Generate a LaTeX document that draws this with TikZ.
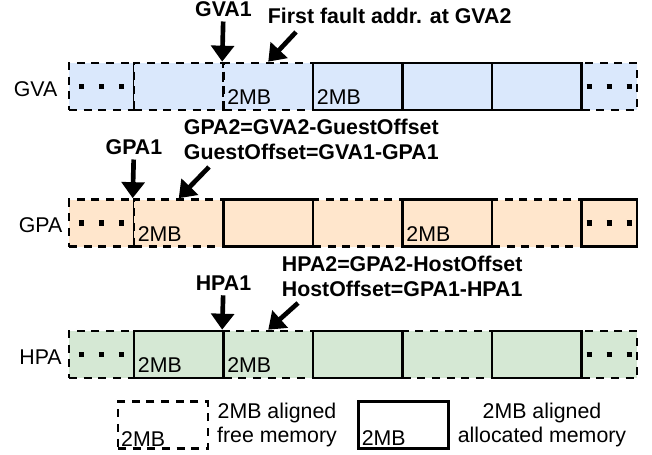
\documentclass[tikz,border=0pt]{standalone}
\usepackage{fontspec}
\setmainfont{Liberation Sans}
\usetikzlibrary{arrows.meta}

\definecolor{gvafill}{HTML}{DAE8FC}
\definecolor{gpafill}{HTML}{FFE6CC}
\definecolor{hpafill}{HTML}{D5E8D4}

\tikzset{every picture/.style={line width=0.75pt}}
\tikzset{
	freecell/.style={draw, line width=2pt, dash pattern=on 6pt off 5pt, minimum height=35.25pt, inner sep=0pt},
	usedcell/.style={draw, line width=1.8pt, minimum height=35.25pt, inner sep=0pt},
	endcell/.style={minimum width=48.75pt},
	midcell/.style={minimum width=67.125pt},
	lastcell/.style={minimum width=41.625pt},
	keycell/.style={minimum width=67.5pt},
	celldots/.style={line width=3.8pt, dash pattern=on 3.8pt off 11.2pt},
	plaintxt/.style={font=\fontsize{16}{18}\selectfont},
	boldtxt/.style={font=\fontsize{16}{18}\selectfont\bfseries},
	sizelbl/.style={plaintxt, anchor=south west, inner xsep=3.5pt, inner ysep=4.5pt},
	keylbl/.style={plaintxt, anchor=south west, inner xsep=3pt, inner ysep=2.5pt},
	blockarrow/.style={-{Triangle[length=12pt,width=17pt]}, line width=3.5pt}
}

\begin{document}
\begin{tikzpicture}[x=0.75pt,y=0.75pt,yscale=-1,xscale=1]
	\useasboundingbox (0,0) rectangle (652,454);

	%GVA row: free cells
	\node[freecell, endcell, fill=gvafill] (gvac0) at (101.5,86.5) {};
	\node[freecell, midcell, fill=gvafill] (gvac1) at (178.75,86.5) {};
	\node[freecell, midcell, fill=gvafill] (gvac2) at (268.25,86.5) {};
	\node[freecell, lastcell, fill=gvafill] (gvac6) at (609.25,86.5) {};
	%GVA row: allocated cells
	\node[usedcell, midcell, fill=gvafill] (gvac3) at (357.75,86.5) {};
	\node[usedcell, midcell, fill=gvafill] (gvac4) at (447.25,86.5) {};
	\node[usedcell, midcell, fill=gvafill] (gvac5) at (536.75,86.5) {};

	%GPA row: free cells
	\node[freecell, endcell, fill=gpafill] (gpac0) at (101.5,223) {};
	\node[freecell, midcell, fill=gpafill] (gpac1) at (178.75,223) {};
	\node[freecell, midcell, fill=gpafill] (gpac3) at (357.75,223) {};
	\node[freecell, midcell, fill=gpafill] (gpac5) at (536.75,223) {};
	%GPA row: allocated cells
	\node[usedcell, midcell, fill=gpafill] (gpac2) at (268.25,223) {};
	\node[usedcell, midcell, fill=gpafill] (gpac4) at (447.25,223) {};
	\node[usedcell, lastcell, fill=gpafill] (gpac6) at (609.25,223) {};

	%HPA row: free cells
	\node[freecell, endcell, fill=hpafill] (hpac0) at (101.5,354.5) {};
	\node[freecell, midcell, fill=hpafill] (hpac2) at (268.25,354.5) {};
	\node[freecell, midcell, fill=hpafill] (hpac4) at (447.25,354.5) {};
	\node[freecell, lastcell, fill=hpafill] (hpac6) at (609.25,354.5) {};
	%HPA row: allocated cells
	\node[usedcell, midcell, fill=hpafill] (hpac1) at (178.75,354.5) {};
	\node[usedcell, midcell, fill=hpafill] (hpac3) at (357.75,354.5) {};
	\node[usedcell, midcell, fill=hpafill] (hpac5) at (536.75,354.5) {};

	%Dots
	\draw[celldots] ([xshift=-16.9pt]gvac0.center) -- ([xshift=16.9pt]gvac0.center);
	\draw[celldots] ([xshift=-16.9pt]gvac6.center) -- ([xshift=16.9pt]gvac6.center);
	\draw[celldots] ([xshift=-16.9pt]gpac0.center) -- ([xshift=16.9pt]gpac0.center);
	\draw[celldots] ([xshift=-16.9pt]gpac6.center) -- ([xshift=16.9pt]gpac6.center);
	\draw[celldots] ([xshift=-16.9pt]hpac0.center) -- ([xshift=16.9pt]hpac0.center);
	\draw[celldots] ([xshift=-16.9pt]hpac6.center) -- ([xshift=16.9pt]hpac6.center);

	%Cell sizes
	\node[sizelbl] (gvam2) at (gvac2.south west) {2MB};
	\node[sizelbl] (gvam3) at (gvac3.south west) {2MB};
	\node[sizelbl] (gpam1) at (gpac1.south west) {2MB};
	\node[sizelbl] (gpam4) at (gpac4.south west) {2MB};
	\node[sizelbl] (hpam1) at (hpac1.south west) {2MB};
	\node[sizelbl] (hpam2) at (hpac2.south west) {2MB};

	% Text Node
	\node[plaintxt] (gvalbl) at (35.5,89) {GVA};
	% Text Node
	\node[plaintxt] (gpalbl) at (40.5,225) {GPA};
	% Text Node
	\node[plaintxt] (hpalbl) at (40.5,357) {HPA};

	% Text Node
	\node[boldtxt] (gva1) at (223.5,9) {GVA1};
	% Text Node
	\node[boldtxt, anchor=west] (fault) at (263,16) {First fault addr. at GVA2};
	% Text Node
	\node[boldtxt, anchor=west] (gpa2eq) at (179,127) {GPA2=GVA2-GuestOffset};
	% Text Node
	\node[boldtxt, anchor=west] (gofseq) at (179,152) {GuestOffset=GVA1-GPA1};
	% Text Node
	\node[boldtxt] (gpa1) at (134,147) {GPA1};
	% Text Node
	\node[boldtxt, anchor=west] (hpa2eq) at (277,264) {HPA2=GPA2-HostOffset};
	% Text Node
	\node[boldtxt, anchor=west] (hofseq) at (277,289) {HostOffset=GPA1-HPA1};
	% Text Node
	\node[boldtxt] (hpa1) at (223.5,283) {HPA1};

	%Arrows
	\coordinate (faulttail) at (296,32);
	\coordinate (gpatail) at (209,167);
	\coordinate (hpatail) at (298,303);
	\draw[blockarrow] (gva1) -- (gvac2.north west);
	\draw[blockarrow] (faulttail) -- (gvac2.north);
	\draw[blockarrow] (gpa1) -- (gpac1.north west);
	\draw[blockarrow] (gpatail) -- (gpac1.north);
	\draw[blockarrow] (hpa1) -- (hpac2.north west);
	\draw[blockarrow] (hpatail) -- (hpac2.north);

	%Legend
	\node[freecell, keycell] (freekey) at (163,425) {};
	\node[keylbl] (freem) at (freekey.south west) {2MB};
	\node[plaintxt, align=center] (freetxt) at (277,425) {2MB aligned\\free memory};
	\node[usedcell, keycell] (usedkey) at (403.5,425) {};
	\node[keylbl] (usedm) at (usedkey.south west) {2MB};
	\node[plaintxt, align=center] (usedtxt) at (542,425) {2MB aligned\\allocated memory};

\end{tikzpicture}
\end{document}
